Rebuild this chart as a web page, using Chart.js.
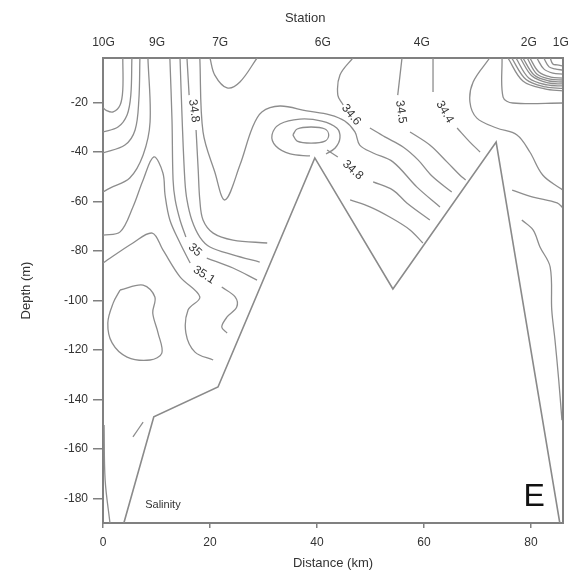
<!DOCTYPE html>
<html>
<head>
<meta charset="utf-8">
<script src="https://cdn.jsdelivr.net/npm/chart.js@4.4.1/dist/chart.umd.min.js"></script>
<style>
  html, body { margin: 0; padding: 0; background: #fff; }
  canvas { display: block; }
</style>
</head>
<body>
<canvas id="myChart" width="571" height="576"></canvas>
<script>
// axis ticks
var xTicks = [0, 20, 40, 60, 80];
var yTicks = [-20, -40, -60, -80, -100, -120, -140, -160, -180];
var stationKm = [0.1, 10.1, 21.9, 41.1, 59.6, 79.6, 85.6];
var stationNames = ["10G", "9G", "7G", "6G", "4G", "2G", "1G"];

// sea floor (km, m)
var bottomKm = [3.9, 9.5, 21.5, 39.6, 54.2, 73.5, 85.4];
var bottomDepth = [-190, -147.1, -135, -42.4, -95.4, -36, -190];

// salinity contours, [km, depth m]
var cA = [[3.7,-2],[3.7,-14.9],[3.2,-21.0],[1.9,-23.8],[0.6,-23.2],[0,-22.0]];
var cB = [[5.4,-2],[5.2,-17.0],[4.5,-25.0],[2.8,-29.9],[0,-31.9]];
var cC = [[6.9,-2],[6.7,-19.0],[6.0,-31.1],[4.1,-37.2],[0,-40.4]];
var cD = [[8.4,-2],[8.8,-27.9],[7.5,-41.2],[5.0,-50.5],[1.3,-54.6],[0,-56.2]];
var c351a = [[0,-73.6],[3.2,-72.3],[5.6,-62.2],[7.5,-51.3],[9.5,-42.0],[11.2,-48.5],[11.6,-57.4],[12.5,-67.5],[14.4,-76.8],[16.3,-84.9]];
var c351b = [[22.2,-94.6],[24.7,-98.6],[25.0,-102.7],[23.2,-106.7],[22.2,-110.8],[23.2,-113.2]];
var c35a = [[12.5,-2],[12.9,-27.1],[13.1,-51.3],[13.5,-59.4],[14.4,-67.5],[15.5,-74.4]];
var c35b = [[19.4,-82.9],[24.3,-86.9],[28.8,-91.8]];
var c349 = [[14.4,-2],[14.8,-27.1],[15.3,-51.3],[15.7,-59.4],[16.6,-67.5],[18.1,-74.4],[20.0,-78.4],[24.3,-81.6],[29.3,-84.5]];
var c348a = [[15.7,-2],[16.1,-17.0]];
var c348b = [[17.4,-31.1],[17.8,-47.3],[18.1,-59.4],[18.7,-67.5],[20.6,-72.8],[24.3,-75.6],[30.7,-76.8]];
var c347 = [[18.1,-2],[18.7,-31.9],[20.9,-48.1],[22.8,-59.4],[25.6,-45.3],[27.9,-30.3],[29.7,-23.8],[33.1,-21.4],[38.1,-23.4],[42.4,-25.0],[45.2,-27.5],[47.1,-31.9],[48.0,-37.2],[50.5,-40.4],[54.2,-44.0],[58.7,-54.2],[63.0,-62.2]];
var ringOuter = [[38.7,-41.6],[35.0,-40.8],[32.3,-37.6],[31.6,-33.1],[33.1,-28.7],[36.8,-26.7],[40.9,-27.5],[43.7,-30.3],[44.3,-34.3],[43.4,-38.4],[41.7,-40.8]];
var ringInner = [[35.5,-33.1],[36.3,-30.7],[38.9,-29.9],[41.5,-30.7],[42.2,-33.1],[41.5,-35.6],[38.9,-36.4],[36.3,-35.6],[35.5,-33.1]];
var c348ra = [[41.9,-39.2],[43.9,-42.0]];
var c348rb = [[50.5,-52.1],[54.2,-55.4],[56.8,-60.6],[61.1,-67.5]];
var cWedge = [[46.2,-59.4],[49.9,-62.2],[53.6,-66.3],[57.4,-71.5],[59.8,-76.8]];
var c346a = [[46.7,-2],[44.3,-8.9],[43.9,-17.0],[44.9,-21.0]];
var c346b = [[49.9,-30.3],[52.7,-33.9],[56.1,-38.0],[58.9,-43.2],[61.5,-49.7],[65.2,-56.2]];
var c345a = [[55.9,-2],[55.1,-17.0]];
var c345b = [[57.4,-31.9],[61.1,-37.2],[64.3,-44.0],[66.7,-49.3],[67.8,-51.3]];
var c344a = [[61.7,-2],[61.7,-15.7]];
var c344b = [[66.2,-30.3],[68.6,-36.0],[70.5,-40.0]];
var cU7 = [[20.0,-2],[20.9,-8.9],[23.2,-14.1],[25.6,-11.7],[28.8,-2]];
var cR1 = [[72.3,-2],[69.2,-11.7],[68.6,-19.8],[69.9,-26.3],[73.6,-30.3],[77.4,-33.1],[79.8,-40.0],[82.2,-49.3],[85.4,-54.6],[86,-55.4]];
var cR2 = [[74.6,-2],[74.8,-17.8],[76.6,-20.2],[86,-20.2]];
var cR3 = [[76.5,-55.4],[80.4,-58.2],[84.9,-60.6],[86,-62.6]];
var cR4 = [[78.3,-67.5],[80.4,-71.5],[81.7,-78.4],[83.6,-86.5],[83.9,-103.9],[84.5,-116.0],[85.2,-132.2],[85.8,-148.4]];
var ring1 = [[75.7,-2],[78.5,-11.3],[82.6,-14.5],[86,-15.3]];
var ring1b = [[76.4,-2],[79.1,-10.7],[82.8,-13.7],[86,-14.3]];
var ring2 = [[77.2,-2],[79.6,-10.1],[83.0,-12.9],[86,-13.3]];
var ring2b = [[78.0,-2],[80.2,-9.3],[83.2,-12.1],[86,-12.5]];
var ring3 = [[78.5,-2],[80.6,-8.9],[83.4,-11.3],[86,-11.7]];
var ring3b = [[79.3,-2],[81.1,-8.5],[83.6,-10.5],[86,-10.9]];
var ring4 = [[79.8,-2],[81.5,-7.7],[83.7,-9.7],[86,-10.1]];
var ring5 = [[81.1,-2],[82.4,-6.4],[84.1,-8.1],[86,-8.5]];
var ring6 = [[82.4,-2],[83.4,-5.6],[84.5,-6.4],[86,-6.9]];
var ring7 = [[83.6,-2],[84.1,-4.4],[84.9,-4.8],[86,-5.2]];
var cC9 = [[0,-84.9],[5.6,-76.8],[9.2,-72.8],[11.2,-79.6],[14.4,-90.5],[18.1,-98.6],[15.9,-103.9],[15.5,-113.2],[17.2,-120.9],[20.6,-124.1]];
var cBlob = [[3.2,-95.8],[7.5,-93.8],[9.7,-98.6],[9.3,-105.1],[10.3,-113.2],[11.0,-121.3],[8.8,-124.1],[4.5,-122.9],[1.7,-117.2],[0.9,-109.1],[1.9,-101.1],[3.2,-95.8]];
var cDash = [[5.6,-155.2],[7.5,-149.2]];
var cEdge = [[0.2,-150.4],[0.4,-172.6],[1.3,-190]];

var contours = [cA, cB, cC, cD, c351a, c351b, c35a, c35b, c349, c348a, c348b, c347,
  ringOuter, ringInner, c348ra, c348rb, cWedge, c346a, c346b, c345a, c345b, c344a, c344b,
  cU7, cR1, cR2, cR3, cR4, ring1, ring1b, ring2, ring2b, ring3, ring3b, ring4, ring5, ring6, ring7,
  cC9, cBlob, cDash, cEdge];

// contour labels: text, km, depth, angle
var labelText = ["34.8", "35", "35.1", "34.6", "34.5", "34.4", "34.8"];
var labelKm = [17.0, 17.2, 18.9, 46.4, 55.7, 63.9, 46.7];
var labelDepth = [-23.4, -79.6, -89.7, -25.0, -23.8, -23.8, -47.3];
var labelAngle = [82, 42, 32, 50, 82, 60, 42];

Chart.defaults.font.family = "'Liberation Sans', Arial, sans-serif";
Chart.defaults.color = "#333";

var lineGray = "#8d8d8d";
var axisGray = "#808080";

var datasets = [];
datasets.push({
  data: bottomKm.map(function (v, i) { return { x: v, y: bottomDepth[i] }; }),
  showLine: true,
  borderColor: "#8a8a8a",
  borderWidth: 1.6,
  pointRadius: 0,
  tension: 0
});
for (var i = 0; i < contours.length; i++) {
  datasets.push({
    data: contours[i].map(function (p) { return { x: p[0], y: p[1] }; }),
    showLine: true,
    borderColor: lineGray,
    borderWidth: 1.3,
    pointRadius: 0,
    tension: 0.35
  });
}

var textPlugin = {
  id: "textPlugin",
  afterDraw: function (chart) {
    var ctx = chart.ctx;
    var xs = chart.scales.x, ys = chart.scales.y;
    var area = chart.chartArea;
    ctx.save();
    // right frame line
    ctx.strokeStyle = axisGray;
    ctx.lineWidth = 2;
    ctx.beginPath();
    ctx.moveTo(area.right, area.top - 1);
    ctx.lineTo(area.right, area.bottom + 1);
    ctx.stroke();

    ctx.fillStyle = "#333";
    ctx.textAlign = "center";
    ctx.textBaseline = "middle";
    ctx.font = "12px 'Liberation Sans', Arial, sans-serif";
    for (var i = 0; i < labelText.length; i++) {
      ctx.save();
      ctx.translate(xs.getPixelForValue(labelKm[i]), ys.getPixelForValue(labelDepth[i]));
      ctx.rotate(labelAngle[i] * Math.PI / 180);
      ctx.fillText(labelText[i], 0, 0);
      ctx.restore();
    }
    ctx.font = "11px 'Liberation Sans', Arial, sans-serif";
    ctx.fillText("Salinity", xs.getPixelForValue(11.2), ys.getPixelForValue(-182.8));
    ctx.fillStyle = "#111";
    ctx.font = "32px 'Liberation Sans', Arial, sans-serif";
    ctx.fillText("E", xs.getPixelForValue(80.6), ys.getPixelForValue(-179.5));
    ctx.fillStyle = "#333";
    ctx.font = "13px 'Liberation Sans', Arial, sans-serif";
    ctx.fillText("Station", xs.getPixelForValue(37.8), 18);
    ctx.restore();
  }
};

function noSidePadding(scale) {
  scale.paddingLeft = 0;
  scale.paddingRight = 0;
}

var ctx = document.getElementById("myChart").getContext("2d");
var myChart = new Chart(ctx, {
  type: "scatter",
  data: { datasets: datasets },
  options: {
    responsive: false,
    animation: false,
    layout: { padding: { left: 0, right: 8, top: 0, bottom: 0 } },
    plugins: { legend: { display: false }, tooltip: { enabled: false } },
    scales: {
      x: {
        type: "linear",
        position: "bottom",
        min: 0,
        max: 86,
        afterBuildTicks: function (scale) {
          scale.ticks = xTicks.map(function (v) { return { value: v }; });
        },
        afterFit: function (scale) { scale.height = 53; noSidePadding(scale); },
        grid: { drawOnChartArea: false, drawTicks: true, tickLength: 5, color: axisGray, lineWidth: 1.5 },
        border: { color: axisGray, width: 2 },
        ticks: { padding: 7, font: { size: 12 }, color: "#333", maxRotation: 0 },
        title: { display: true, text: "Distance (km)", font: { size: 13 }, color: "#333", padding: { top: 0, bottom: 5 } }
      },
      x2: {
        type: "linear",
        position: "top",
        min: 0,
        max: 86,
        afterBuildTicks: function (scale) {
          scale.ticks = stationKm.map(function (v) { return { value: v }; });
        },
        afterFit: function (scale) { scale.height = 58; noSidePadding(scale); },
        grid: { drawOnChartArea: false, drawTicks: false },
        border: { color: axisGray, width: 2 },
        ticks: {
          autoSkip: false,
          maxRotation: 0,
          padding: 8,
          font: { size: 12 },
          color: "#333",
          callback: function (value, index) { return stationNames[index]; }
        }
      },
      y: {
        type: "linear",
        position: "left",
        min: -190,
        max: -2,
        afterBuildTicks: function (scale) {
          scale.ticks = yTicks.map(function (v) { return { value: v }; });
        },
        afterFit: function (scale) { scale.width = 103; },
        grid: { drawOnChartArea: false, drawTicks: true, tickLength: 10, color: axisGray, lineWidth: 1.5 },
        border: { color: axisGray, width: 2 },
        ticks: { padding: 5, font: { size: 12 }, color: "#333" },
        title: { display: true, text: "Depth (m)", font: { size: 13 }, color: "#333", padding: { top: 19, bottom: 0 } }
      }
    }
  },
  plugins: [textPlugin]
});
</script>
</body>
</html>
